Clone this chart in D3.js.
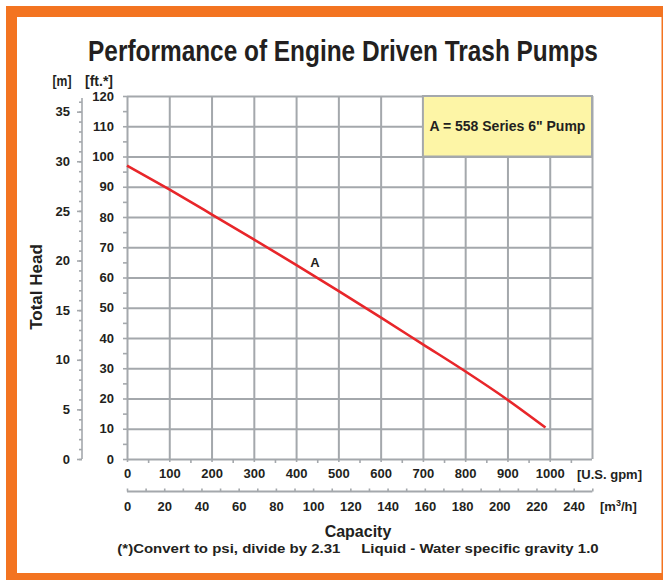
<!DOCTYPE html>
<html>
<head>
<meta charset="utf-8">
<script src="https://cdn.jsdelivr.net/npm/d3@7"></script>
<style>
  html, body { margin: 0; padding: 0; background: #ffffff; }
  svg { display: block; }
  text { fill: #231f20; font-family: "Liberation Sans", Arial, sans-serif; font-weight: bold; }
</style>
</head>
<body>
<svg id="chart" width="663" height="580"></svg>
<script>
// ---- data ----
const title = "Performance of Engine Driven Trash Pumps";
const curveGpm = [0, 100, 200, 300, 400, 500, 600, 700, 800, 900, 990];
const curveFt  = [97, 89.1, 80.9, 72.6, 64.2, 55.6, 46.8, 37.9, 29.0, 19.6, 10.4];
const curveName = "A";
const legendLabel = "A = 558 Series 6\" Pump";
const gpmTicks = [0, 100, 200, 300, 400, 500, 600, 700, 800, 900, 1000];
const gpmMinor = [50, 150, 250, 350, 450, 550, 650, 750, 850, 950, 1050];
const ftTicks = [0, 10, 20, 30, 40, 50, 60, 70, 80, 90, 100, 110, 120];
const ftMinor = [5, 15, 25, 35, 45, 55, 65, 75, 85, 95, 105, 115];
const mTicks = [0, 5, 10, 15, 20, 25, 30, 35];
const mMinor = d3.range(0, 37, 1);
const m3hTicks = [0, 20, 40, 60, 80, 100, 120, 140, 160, 180, 200, 220, 240];
const m3hMinor = d3.range(0, 251, 10);
const gpmPerM3h = 4.4029;
const ftPerM = 3.2808;
const footnote = "(*)Convert to psi, divide by 2.31     Liquid - Water specific gravity 1.0";

// ---- layout ----
const svg = d3.select("#chart");
const orange = "#f37421";
const grid = "#a4a8ac";
const X0 = 127, X1 = 592, Y0 = 459, Y1 = 96;

// orange frame
svg.append("rect").attr("x", 0).attr("y", 0).attr("width", 663).attr("height", 580).attr("fill", "#ffffff");
svg.append("rect").attr("x", 6).attr("y", 6).attr("width", 657).attr("height", 574).attr("fill", orange);
svg.append("rect").attr("x", 17).attr("y", 17).attr("width", 644.5).attr("height", 556).attr("fill", "#ffffff");

const x = d3.scaleLinear().domain([0, 1100]).range([X0, X1]);
const y = d3.scaleLinear().domain([0, 120]).range([Y0, Y1]);
const xm = d3.scaleLinear().domain([0, 250]).range([x(0), x(250 * gpmPerM3h)]);
const ym = d3.scaleLinear().domain([0, 120 / ftPerM]).range([Y0, Y1]);

// text scaled horizontally to a target width
function fitText(cx, baseY, str, size, width) {
  const t = svg.append("text").attr("x", 0).attr("y", 0).attr("text-anchor", "middle")
    .style("font-size", size + "px").style("white-space", "pre").text(str);
  const w = t.node().getComputedTextLength();
  const s = width / w;
  t.attr("transform", `translate(${cx},${baseY}) scale(${s},1)`);
  return t;
}

// title
fitText(343, 61, title, 29, 510);

function styleAxis(g, size) {
  g.select(".domain").remove();
  g.selectAll(".tick line").attr("stroke", grid).attr("stroke-width", 1.6);
  g.selectAll(".tick text").style("font-size", size || "13px").attr("fill", "#231f20");
}

// grid lines
svg.append("g").attr("transform", `translate(${X0},0)`)
  .call(d3.axisLeft(y).tickValues(ftTicks).tickSize(-(X1 - X0)).tickFormat(""))
  .call(g => { g.select(".domain").remove(); g.selectAll(".tick line").attr("stroke", grid).attr("stroke-width", 2); });
svg.append("g").attr("transform", `translate(0,${Y0})`)
  .call(d3.axisBottom(x).tickValues(gpmTicks.concat([1100])).tickSize(-(Y0 - Y1)).tickFormat(""))
  .call(g => { g.select(".domain").remove(); g.selectAll(".tick line").attr("stroke", grid).attr("stroke-width", 2); });

// legend box
svg.append("rect").attr("x", x(700)).attr("y", y(120)).attr("width", x(1100) - x(700)).attr("height", y(100) - y(120))
  .attr("fill", "#fdf5a6").attr("stroke", grid).attr("stroke-width", 2);
svg.append("text").attr("x", (x(700) + x(1100)) / 2).attr("y", (y(120) + y(100)) / 2 + 5)
  .attr("text-anchor", "middle").style("font-size", "14px").text(legendLabel);

// ft axis
svg.append("g").attr("transform", `translate(${X0},0)`)
  .call(d3.axisLeft(y).tickValues(ftTicks).tickSize(4).tickPadding(9).tickFormat(d3.format("d")))
  .call(g => styleAxis(g));
svg.append("g").attr("transform", `translate(${X0},0)`)
  .call(d3.axisLeft(y).tickValues(ftMinor).tickSize(4).tickFormat(""))
  .call(g => styleAxis(g));

// meter axis
const mAxisX = 82;
svg.append("line").attr("x1", mAxisX).attr("x2", mAxisX).attr("y1", ym(0)).attr("y2", Y1 + 2)
  .attr("stroke", grid).attr("stroke-width", 1.6);
svg.append("g").attr("transform", `translate(${mAxisX},0)`)
  .call(d3.axisLeft(ym).tickValues(mMinor).tickSize(3).tickFormat(""))
  .call(g => styleAxis(g));
svg.append("g").attr("transform", `translate(${mAxisX},0)`)
  .call(d3.axisLeft(ym).tickValues(mTicks).tickSize(5).tickPadding(7).tickFormat(d3.format("d")))
  .call(g => styleAxis(g));

// gpm axis
svg.append("g").attr("transform", `translate(0,${Y0})`)
  .call(d3.axisBottom(x).tickValues(gpmMinor).tickSize(4).tickFormat(""))
  .call(g => styleAxis(g));
svg.append("g").attr("transform", `translate(0,${Y0})`)
  .call(d3.axisBottom(x).tickValues(gpmTicks).tickSize(3).tickPadding(7).tickFormat(d3.format("d")))
  .call(g => styleAxis(g));
svg.append("text").attr("x", 577).attr("y", 479).style("font-size", "13px").text("[U.S. gpm]");

// m3/h axis
const mhY = 491.5;
svg.append("line").attr("x1", xm(0)).attr("x2", xm(250)).attr("y1", mhY).attr("y2", mhY)
  .attr("stroke", grid).attr("stroke-width", 2);
svg.append("g").attr("transform", `translate(0,${mhY})`)
  .call(d3.axisTop(xm).tickValues(m3hMinor).tickSize(3).tickFormat(""))
  .call(g => styleAxis(g));
svg.append("g").attr("transform", `translate(0,${mhY})`)
  .call(d3.axisBottom(xm).tickValues(m3hTicks).tickSize(0).tickPadding(10).tickFormat(d3.format("d")))
  .call(g => styleAxis(g));
const mhLabel = svg.append("text").attr("x", 600).attr("y", 511).style("font-size", "13px");
mhLabel.append("tspan").text("[m");
mhLabel.append("tspan").attr("dy", -5).style("font-size", "9px").text("3");
mhLabel.append("tspan").attr("dy", 5).text("/h]");

// unit labels
fitText(62, 86, "[m]", 14, 19);
fitText(99, 86, "[ft.*]", 14, 28);

// axis titles
svg.append("text").attr("transform", "translate(42,287) rotate(-90)").attr("text-anchor", "middle")
  .style("font-size", "17px").text("Total Head");
svg.append("text").attr("x", 358).attr("y", 537).attr("text-anchor", "middle")
  .style("font-size", "16px").text("Capacity");
fitText(358, 553, footnote, 13, 482);

// curve
const pts = curveGpm.map((g, i) => [g, curveFt[i]]);
svg.append("path").datum(pts)
  .attr("d", d3.line().x(d => x(d[0])).y(d => y(d[1])).curve(d3.curveMonotoneX))
  .attr("fill", "none").attr("stroke", "#e8262a").attr("stroke-width", 2.6);
svg.append("text").attr("x", 315).attr("y", 266.5).attr("text-anchor", "middle")
  .style("font-size", "13px").text(curveName);
</script>
</body>
</html>
